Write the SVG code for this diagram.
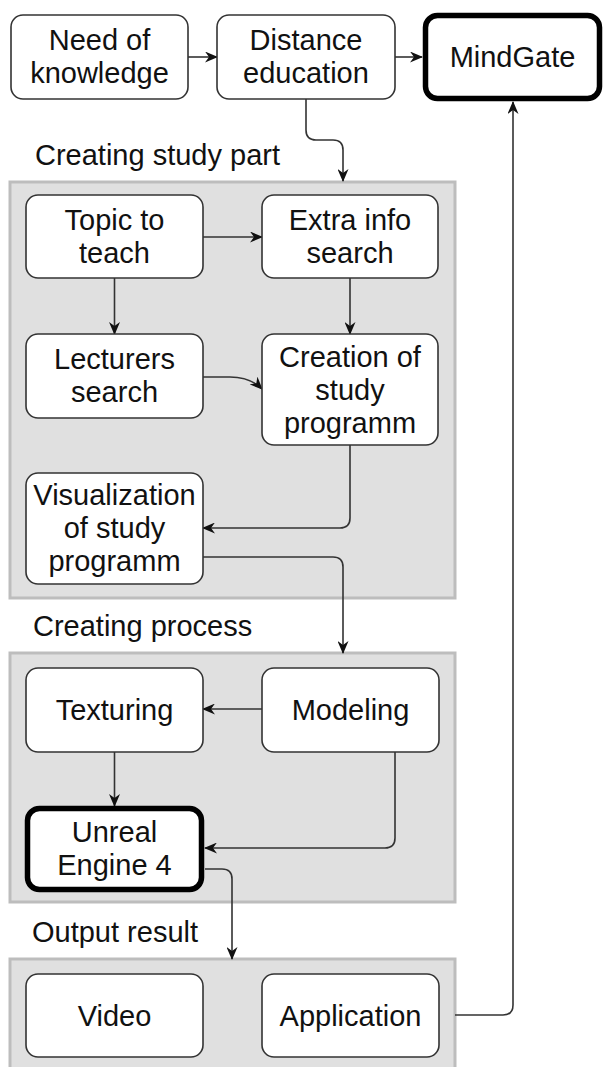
<svg xmlns="http://www.w3.org/2000/svg" width="603" height="1067" viewBox="0 0 603 1067">
<style>
.panel{fill:#e0e0e0;stroke:#bdbdbd;stroke-width:3}
.node{fill:#fff;stroke:#333;stroke-width:1.6}
.bold{fill:#fff;stroke:#000;stroke-width:5.5}
.t{font-family:"Liberation Sans",Arial,sans-serif;font-size:29px;fill:#111;text-anchor:middle}
.lbl{font-family:"Liberation Sans",Arial,sans-serif;font-size:29px;fill:#111}
.c{fill:none;stroke:#333;stroke-width:1.6}
</style>
<defs>
<marker id="ah" markerUnits="userSpaceOnUse" markerWidth="13" markerHeight="11" refX="12" refY="5.5" orient="auto" viewBox="0 0 13 11">
<path d="M0,0 L13,5.5 L0,11 L4,5.5 Z" fill="#111"/>
</marker>
</defs>
<rect width="603" height="1067" fill="#fff"/>
<g id="panels">
<rect class="panel" x="10" y="182" width="445" height="416"/>
<rect class="panel" x="10" y="653" width="445" height="249"/>
<rect class="panel" x="10" y="959" width="445" height="120"/>
<text class="lbl" x="35" y="165">Creating study part</text>
<text class="lbl" x="33" y="636">Creating process</text>
<text class="lbl" x="32" y="942">Output result</text>
</g>
<g id="connectors">
<path class="c" d="M188,57 L217,57" marker-end="url(#ah)"/>
<path class="c" d="M395,57 L422,57" marker-end="url(#ah)"/>
<path class="c" d="M306,99 L306,130 Q306,140 316,140 L333,140 Q343,140 343,150 L343,181" marker-end="url(#ah)"/>
<path class="c" d="M203,237 L262,237" marker-end="url(#ah)"/>
<path class="c" d="M114.5,278 L114.5,334" marker-end="url(#ah)"/>
<path class="c" d="M350,278 L350,334" marker-end="url(#ah)"/>
<path class="c" d="M203,377 L230,377 Q250,377 262,389" marker-end="url(#ah)"/>
<path class="c" d="M350,445 L350,518 Q350,528 340,528 L203,528" marker-end="url(#ah)"/>
<path class="c" d="M203,557 L333,557 Q343,557 343,567 L343,653" marker-end="url(#ah)"/>
<path class="c" d="M262,709 L203,709" marker-end="url(#ah)"/>
<path class="c" d="M114.5,752 L114.5,806" marker-end="url(#ah)"/>
<path class="c" d="M395,752 L395,838 Q395,848 385,848 L205,848" marker-end="url(#ah)"/>
<path class="c" d="M205,869 L222,869 Q232,869 232,879 L232,959" marker-end="url(#ah)"/>
<path class="c" d="M455,1015 L503,1015 Q513,1015 513,1005 L513,102" marker-end="url(#ah)"/>
</g>
<g id="need">
<rect class="node" x="11" y="15" width="177" height="84" rx="12"/>
<text class="t" x="99.5" y="50">Need of</text>
<text class="t" x="99.5" y="83">knowledge</text>
</g>
<g id="distance">
<rect class="node" x="217" y="15" width="178" height="84" rx="12"/>
<text class="t" x="306" y="50">Distance</text>
<text class="t" x="306" y="83">education</text>
</g>
<g id="mindgate">
<rect class="bold" x="425.5" y="15.5" width="174" height="83" rx="12"/>
<text class="t" x="512.5" y="67">MindGate</text>
</g>
<g id="topic">
<rect class="node" x="26" y="195" width="177" height="83" rx="12"/>
<text class="t" x="114.5" y="230">Topic to</text>
<text class="t" x="114.5" y="263">teach</text>
</g>
<g id="extra">
<rect class="node" x="262" y="195" width="176" height="83" rx="12"/>
<text class="t" x="350" y="230">Extra info</text>
<text class="t" x="350" y="263">search</text>
</g>
<g id="lecturers">
<rect class="node" x="26" y="334" width="177" height="84" rx="12"/>
<text class="t" x="114.5" y="369">Lecturers</text>
<text class="t" x="114.5" y="402">search</text>
</g>
<g id="creation">
<rect class="node" x="262" y="334" width="176" height="111" rx="12"/>
<text class="t" x="350" y="367">Creation of</text>
<text class="t" x="350" y="400">study</text>
<text class="t" x="350" y="433">programm</text>
</g>
<g id="visualization">
<rect class="node" x="26" y="473" width="177" height="111" rx="12"/>
<text class="t" x="114.5" y="505">Visualization</text>
<text class="t" x="114.5" y="538">of study</text>
<text class="t" x="114.5" y="571">programm</text>
</g>
<g id="texturing">
<rect class="node" x="26" y="668" width="177" height="84" rx="12"/>
<text class="t" x="114.5" y="720">Texturing</text>
</g>
<g id="modeling">
<rect class="node" x="262" y="668" width="177" height="84" rx="12"/>
<text class="t" x="350.5" y="720">Modeling</text>
</g>
<g id="unreal">
<rect class="bold" x="27.5" y="808.5" width="174" height="81" rx="12"/>
<text class="t" x="114.5" y="842">Unreal</text>
<text class="t" x="114.5" y="875">Engine 4</text>
</g>
<g id="video">
<rect class="node" x="26" y="974" width="177" height="83" rx="12"/>
<text class="t" x="114.5" y="1026">Video</text>
</g>
<g id="application">
<rect class="node" x="262" y="974" width="177" height="83" rx="12"/>
<text class="t" x="350.5" y="1026">Application</text>
</g>
</svg>
